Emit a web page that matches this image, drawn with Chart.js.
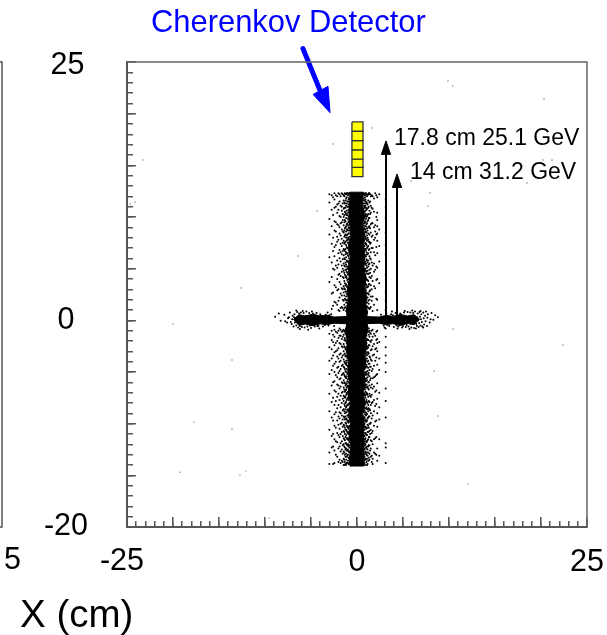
<!DOCTYPE html>
<html>
<head>
<meta charset="utf-8">
<script src="https://cdn.jsdelivr.net/npm/chart.js@4"></script>
<style>
  html, body { margin: 0; padding: 0; background: #fff; }
  #wrap { width: 607px; height: 635px; }
</style>
</head>
<body>
<div id="wrap"><canvas id="chart" width="607" height="635"></canvas></div>
<script>
// axis ranges and labelled ticks
const xRange = [-25, 25];
const yRange = [-20, 25];
const xTickLabels = [0, 25];
const yTickLabels = [0, -20];
// these two sit off their ticks in the picture, so they are placed by hand below
const cornerLabels = ["-25", "25"];

// stray hits
const strayX = [9.89, 10.43, 20.33, 20.22, 21.2, 18.48, 7.93, 7.72, 5.87, 1.63, -2.61, -23.26, -4.35, -6.41, -24.13, -24.67, -12.61, -20, -13.59, -17.72, -13.59, -19.24, -12.72, -12.07, -9.57, 10.43, 22.39, 8.37, 8.8, 12.07];
const strayY = [23.16, 22.68, 21.42, 15.52, 15.52, 13.29, 12.32, 11.06, 13.49, 18.62, 17.07, 15.52, 10.58, 6.22, 11.45, 11.26, 3.13, -0.36, -3.84, -9.85, -10.52, -14.69, -14.98, -14.59, -19.14, -0.84, -2.39, -4.91, -9.26, -15.85];

// solid black parts of the beam spot, as outlines
const coreOutlineX = [0.7, 0.6, 0.8, 0.62, 0.82, 0.66, 0.86, 0.72, 0.95, 0.85, 1.05, 0.95, 1.15, 1.0, 1.2, 0.95, 1.05, 0.85, 0.95, 0.72, 0.88, 0.66, 0.84, 0.62, 0.8, 0.68, 0.74, 0.7, -0.76, -0.82, -0.68, -0.86, -0.7, -0.9, -0.72, -0.96, -0.8, -1.0, -0.9, -1.15, -1.05, -1.25, -1.05, -1.15, -0.95, -1.05, -0.82, -0.94, -0.72, -0.9, -0.7, -0.85, -0.76];
const coreOutlineY = [12.4, 11.2, 10.2, 9.3, 8.2, 7.2, 6.2, 5.3, 4.2, 3.1, 2.2, 1.5, 0.8, 0, -0.7, -1.6, -2.4, -3.2, -4.1, -5, -6, -7, -8, -9, -10, -11, -12.6, -14.1, -14.1, -13.4, -12.2, -11.1, -10, -9.1, -8, -7, -6, -5, -4, -3, -2, -1, 0, 1, 2, 3, 4, 5.1, 6.1, 7.1, 8.2, 10.2, 12.4];
const bandOutlineX = [-6.9, -6.3, -5.6, -4.8, -4, -3.3, -2.5, -1.3, 1, 2.4, 3.2, 3.9, 4.7, 5.5, 6.2, 6.8, 6.2, 5.5, 4.7, 3.9, 3.2, 2.4, 1, -1.3, -2.5, -3.3, -4, -4.8, -5.6, -6.3];
const bandOutlineY = [0.1, 0.55, 0.42, 0.6, 0.42, 0.5, 0.32, 0.36, 0.36, 0.32, 0.48, 0.38, 0.56, 0.42, 0.55, 0.1, -0.42, -0.3, -0.5, -0.32, -0.42, -0.28, -0.32, -0.32, -0.28, -0.42, -0.34, -0.52, -0.36, -0.5];

// scattered hits along the vertical arm: one x, then the y values seen in that column
const haloColumnX = [-3.0, -2.75, -2.45, -2.15, -1.9, -1.65, -1.45, -1.32, -1.18, -1.05, -0.92, -0.82, 0.72, 0.82, 0.92, 1.03, 1.15, 1.28, 1.42, 1.7, 1.98, 2.2, 2.42, 3.12,
  -2.6, -2.3, -2.02, -1.78, -1.55, -1.38, -1.25, -1.12, -0.98, -0.87, 0.77, 0.87, 0.97, 1.09, 1.22, 1.35, 1.5, 1.6, 1.85, 2.1];
const haloColumnY = [
  [12.2, 11.4, 9.8, 8.3, 6.1, 3.7, -1.3, -2.6, -3.9, -5.2, -7.1, -8.8, -10.6, -12.8, -13.9],
  [12.1, 10.7, 9.1, 7.4, 5.6, 4.2, 2.6, 1.1, -1.0, -1.9, -2.8, -3.7, -4.8, -6.3, -7.9, -9.4, -11.2, -12.3],
  [12.3, 11.7, 10.9, 9.6, 8.7, 7.1, 6.2, 4.9, 3.4, 1.8, -0.9, -1.6, -2.4, -3.1, -4.2, -5.0, -5.9, -6.8, -8.2, -9.1, -10.2, -11.5, -12.6, -13.8],
  [12.0, 11.2, 10.4, 9.3, 8.1, 7.6, 5.8, 5.1, 4.0, 2.9, 1.5, -1.2, -2.0, -2.9, -3.5, -4.6, -5.5, -6.2, -7.4, -8.5, -9.7, -10.9, -11.8, -13.2],
  [12.2, 11.5, 10.1, 9.0, 8.4, 6.8, 6.0, 4.5, 3.7, 2.2, 0.9, -0.8, -1.5, -2.2, -3.3, -4.0, -4.9, -5.7, -6.6, -7.7, -8.9, -9.5, -10.5, -11.3, -12.2, -13.5],
  [12.3, 11.0, 10.6, 9.5, 8.8, 7.9, 7.2, 6.4, 5.3, 4.7, 3.1, 2.4, 1.3, -1.1, -1.8, -2.5, -3.6, -4.4, -5.3, -6.0, -7.0, -8.0, -9.2, -9.9, -10.8, -11.7, -12.5, -13.6],
  [12.1, 11.6, 10.8, 10.0, 9.2, 8.5, 7.7, 6.9, 6.3, 5.5, 4.8, 4.1, 3.3, 2.7, 1.9, 1.0, -0.9, -1.4, -2.3, -3.0, -3.8, -4.5, -5.1, -5.8, -6.5, -7.3, -7.8, -8.6, -9.3, -10.1, -10.7, -11.4, -12.0, -12.7, -13.4, -14.0],
  [12.3, 11.3, 10.5, 9.7, 8.9, 8.2, 7.5, 6.7, 5.9, 5.2, 4.4, 3.6, 3.0, 2.1, 1.2, -1.0, -1.7, -2.6, -3.2, -4.1, -4.7, -5.4, -6.1, -6.9, -7.5, -8.3, -9.0, -9.6, -10.4, -11.0, -11.6, -12.3, -13.0, -13.7],
  [12.2, 11.8, 11.1, 10.3, 9.9, 9.1, 8.6, 8.0, 7.3, 6.6, 6.1, 5.4, 4.9, 4.3, 3.5, 2.8, 2.3, 1.7, 0.9, -0.8, -1.3, -1.9, -2.7, -3.4, -3.9, -4.3, -5.0, -5.6, -6.2, -6.7, -7.2, -7.9, -8.4, -8.9, -9.5, -10.0, -10.6, -11.1, -11.9, -12.4, -12.9, -13.5, -14.0],
  [12.3, 11.5, 11.0, 10.2, 9.4, 8.8, 8.3, 7.8, 7.0, 6.5, 5.7, 5.0, 4.6, 3.9, 3.2, 2.5, 2.0, 1.4, -0.9, -1.6, -2.1, -3.0, -3.7, -4.4, -5.2, -5.9, -6.4, -7.1, -7.6, -8.2, -8.7, -9.2, -9.8, -10.3, -10.9, -11.5, -12.1, -12.6, -13.1, -13.8],
  [12.2, 11.7, 11.2, 10.7, 10.0, 9.6, 9.0, 8.4, 7.9, 7.4, 6.8, 6.2, 5.6, 5.1, 4.5, 4.0, 3.4, 2.9, 2.3, 1.6, -1.2, -1.8, -2.4, -3.1, -3.6, -4.2, -4.8, -5.5, -6.0, -6.6, -7.3, -7.7, -8.1, -8.8, -9.4, -9.9, -10.5, -11.0, -11.6, -12.2, -12.7, -13.3, -13.9],
  [12.3, 11.9, 11.4, 10.9, 10.4, 9.8, 9.3, 8.7, 8.1, 7.6, 7.1, 6.4, 5.8, 5.3, 4.7, 4.2, 3.7, -4.9, -5.4, -6.1, -6.8, -7.4, -8.0, -8.5, -9.1, -9.7, -10.2, -10.7, -11.3, -11.8, -12.3, -12.8, -13.4, -13.9],
  [12.3, 11.8, 11.3, 10.8, 10.3, 9.7, 9.2, 8.6, 8.2, 7.7, 7.0, 6.5, 5.9, 5.2, 4.6, 4.1, -4.6, -5.3, -5.9, -6.5, -7.0, -7.6, -8.3, -8.8, -9.3, -9.9, -10.4, -11.1, -11.7, -12.2, -12.9, -13.5, -14.0],
  [12.2, 11.6, 11.0, 10.5, 9.9, 9.4, 8.9, 8.3, 7.8, 7.2, 6.7, 6.1, 5.5, 4.9, 4.4, 3.8, 3.3, 2.6, -2.9, -3.5, -4.1, -4.7, -5.2, -5.8, -6.4, -7.1, -7.8, -8.2, -8.7, -9.4, -10.0, -10.6, -11.2, -11.9, -12.5, -13.2, -13.8],
  [12.3, 11.7, 11.1, 10.6, 10.1, 9.5, 8.8, 8.1, 7.5, 6.9, 6.3, 5.7, 5.0, 4.3, 3.6, 3.1, 2.4, 1.8, 1.1, -1.1, -1.7, -2.3, -3.0, -3.8, -4.4, -5.1, -5.7, -6.3, -6.9, -7.5, -8.1, -8.9, -9.6, -10.3, -10.9, -11.4, -12.0, -12.7, -13.4],
  [12.2, 11.4, 10.7, 10.0, 9.3, 8.5, 7.9, 7.3, 6.6, 5.9, 5.3, 4.7, 4.0, 3.4, 2.7, 2.1, 1.4, -0.9, -1.5, -2.2, -2.8, -3.4, -4.3, -5.0, -5.6, -6.2, -7.0, -7.7, -8.4, -9.0, -9.8, -10.5, -11.1, -11.8, -12.4, -13.0, -13.7],
  [12.1, 11.2, 10.2, 9.6, 8.7, 8.0, 7.1, 6.4, 5.6, 4.8, 3.9, 3.2, 2.2, 1.3, -1.0, -1.9, -2.7, -3.3, -4.0, -4.9, -5.5, -6.4, -7.2, -8.0, -8.6, -9.5, -10.1, -10.8, -11.6, -12.5, -13.1, -13.9],
  [12.3, 11.0, 9.9, 9.0, 7.6, 6.8, 5.4, 4.5, 3.5, 2.5, 1.6, -0.8, -1.4, -2.4, -3.2, -4.2, -5.1, -6.0, -6.7, -7.8, -8.5, -9.3, -10.4, -11.3, -12.1, -13.3],
  [12.2, 11.5, 10.3, 8.9, 7.4, 6.0, 4.6, 2.9, 1.2, -1.2, -2.0, -3.6, -4.5, -5.8, -7.3, -8.7, -10.0, -11.0, -12.6],
  [12.0, 10.8, 9.4, 8.2, 7.0, 5.3, 3.8, 2.3, 0.9, -0.9, -1.6, -2.5, -3.4, -4.7, -5.6, -6.6, -7.9, -9.2, -10.7, -12.0, -13.4, -13.9],
  [12.3, 9.2, 8.6, 8.0, 6.3, 4.9, 3.1, -1.5, -2.8, -3.9, -5.4, -6.9, -8.3, -9.8, -11.4, -12.9],
  [11.9, 10.4, 9.7, 9.1, 8.4, 7.7, 6.5, 5.1, 4.0, 2.0, 1.0, -1.0, -1.8, -2.2, -3.0, -4.3, -5.2, -6.1, -7.6, -9.0, -10.3, -12.4, -13.6],
  [12.2, 8.8, 7.2, 5.7, 3.6, -2.1, -3.7, -4.8, -7.0, -8.4, -9.6, -11.5, -13.1],
  [11.7, 10.9, 9.9, 8.5, 7.3, 6.4, 4.4, 2.8, 1.9, 1.0, -0.8, -1.6, -2.6, -3.4, -4.1, -5.0, -6.6, -7.8, -9.4, -11.9, -12.3, -13.8],
  [11.9, 10.2, 8.0, 6.7, 5.0, 2.7, 1.4, -1.4, -2.1, -3.4, -4.4, -6.0, -7.5, -9.7, -11.0, -12.2, -13.9],
  [12.1, 11.0, 9.5, 8.6, 7.3, 5.3, 3.2, 1.7, -1.1, -2.2, -3.0, -4.0, -5.3, -6.9, -7.8, -8.9, -10.4, -11.7, -13.0],
  [12.3, 11.3, 10.7, 9.2, 7.8, 6.5, 5.4, 4.4, 3.0, 1.9, 1.0, -1.0, -1.7, -2.7, -3.7, -4.5, -5.1, -6.3, -7.1, -8.2, -9.3, -10.1, -11.1, -12.4, -13.7],
  [12.0, 11.1, 10.0, 9.4, 8.2, 7.4, 6.6, 5.7, 4.3, 3.5, 2.6, 1.2, -0.9, -1.5, -2.3, -3.2, -3.9, -4.7, -5.6, -6.4, -7.3, -8.4, -9.0, -10.0, -11.0, -11.9, -12.7, -13.8],
  [12.2, 11.3, 10.3, 9.7, 8.6, 7.5, 6.7, 5.9, 5.0, 4.2, 3.0, 2.0, 1.2, -1.0, -1.6, -2.6, -3.4, -4.3, -5.2, -6.1, -6.9, -7.6, -8.7, -9.6, -10.3, -11.2, -12.1, -12.9, -13.7],
  [12.0, 11.4, 10.9, 10.2, 9.5, 8.7, 8.1, 7.4, 6.8, 6.0, 5.3, 4.6, 3.8, 3.1, 2.4, 1.5, -1.1, -1.9, -2.5, -3.3, -4.0, -4.6, -5.3, -6.0, -6.7, -7.4, -8.1, -8.8, -9.4, -10.2, -10.8, -11.5, -12.2, -12.8, -13.5, -14.0],
  [12.2, 11.6, 10.9, 10.4, 9.6, 9.0, 8.3, 7.6, 6.9, 6.4, 5.6, 4.9, 4.2, 3.4, 2.8, 2.0, 1.3, -1.3, -2.0, -2.8, -3.5, -4.2, -4.9, -5.5, -6.3, -6.8, -7.4, -8.0, -8.6, -9.3, -9.9, -10.6, -11.3, -11.9, -12.5, -13.2, -13.9],
  [12.3, 11.9, 11.3, 10.6, 10.2, 9.3, 8.8, 8.2, 7.7, 7.1, 6.5, 5.8, 5.2, 4.7, 4.1, 3.3, 2.6, 1.9, 1.1, -1.0, -1.5, -2.2, -2.9, -3.5, -4.1, -4.7, -5.4, -6.1, -6.5, -7.0, -7.7, -8.3, -8.9, -9.6, -10.2, -10.7, -11.4, -12.0, -12.6, -13.2, -13.8],
  [12.1, 11.5, 11.0, 10.4, 9.8, 9.2, 8.7, 8.0, 7.5, 7.0, 6.3, 5.7, 5.2, 4.4, 3.7, 3.1, 2.5, -2.0, -2.7, -3.3, -3.9, -4.5, -5.1, -5.7, -6.3, -6.9, -7.5, -8.2, -8.6, -9.2, -9.7, -10.4, -10.8, -11.4, -12.0, -12.5, -13.0, -13.6],
  [12.3, 11.8, 11.2, 10.6, 10.1, 9.5, 8.9, 8.4, 7.8, 7.3, 6.6, 6.0, 5.5, 4.9, -5.2, -5.7, -6.4, -6.9, -7.5, -8.1, -8.7, -9.2, -9.8, -10.3, -10.9, -11.5, -12.1, -12.7, -13.3, -13.8],
  [12.2, 11.6, 11.1, 10.5, 10.0, 9.4, 8.8, 8.3, 7.7, 7.2, 6.7, 6.2, 5.6, 5.0, -5.4, -6.0, -6.6, -7.2, -7.7, -8.4, -8.9, -9.5, -10.0, -10.6, -11.2, -11.7, -12.4, -13.0, -13.6],
  [12.1, 11.9, 11.3, 10.9, 10.2, 9.6, 9.1, 8.5, 8.0, 7.4, 6.9, 6.3, 5.4, 4.8, 4.2, 3.7, -3.2, -3.9, -4.5, -5.0, -5.6, -6.2, -6.7, -7.3, -7.9, -8.5, -9.1, -9.7, -10.3, -10.9, -11.5, -12.1, -12.8, -13.4, -14.0],
  [12.3, 11.5, 10.9, 10.3, 9.8, 9.1, 8.6, 7.9, 7.4, 6.8, 6.2, 5.5, 4.8, 4.1, 3.5, 2.9, 2.2, -1.4, -2.0, -2.6, -3.2, -3.9, -4.6, -5.3, -5.9, -6.5, -7.2, -7.9, -8.5, -9.2, -9.8, -10.4, -11.0, -11.7, -12.3, -12.9, -13.5],
  [12.0, 11.3, 10.8, 10.1, 9.4, 8.9, 8.2, 7.7, 7.0, 6.4, 5.8, 5.1, 4.5, 3.9, 3.2, 2.6, 1.7, -1.2, -1.8, -2.5, -3.1, -3.7, -4.5, -5.2, -5.8, -6.5, -7.1, -7.9, -8.6, -9.1, -9.7, -10.4, -11.1, -11.7, -12.2, -12.8, -13.4, -14.0],
  [12.2, 11.6, 10.9, 10.3, 9.7, 9.0, 8.4, 7.8, 7.2, 6.5, 5.8, 5.2, 4.5, 3.8, 3.3, 2.6, 1.9, 1.2, -1.1, -1.9, -2.6, -3.1, -3.9, -4.6, -5.3, -6.0, -6.6, -7.4, -8.2, -8.8, -9.4, -10.2, -10.8, -11.5, -12.2, -12.8, -13.6],
  [12.3, 11.4, 10.6, 9.9, 9.1, 8.3, 7.6, 6.9, 6.2, 5.5, 4.9, 4.2, 3.5, 2.8, 2.0, 1.1, -1.0, -1.6, -2.4, -3.5, -4.2, -4.8, -5.4, -6.3, -7.1, -7.9, -8.6, -9.3, -10.0, -10.7, -11.3, -12.1, -12.9, -13.5],
  [12.0, 11.1, 10.4, 9.3, 8.5, 7.5, 6.6, 5.9, 5.0, 4.1, 3.4, 2.3, 1.3, -1.3, -2.1, -2.9, -3.8, -4.5, -5.6, -6.5, -7.4, -8.2, -9.0, -9.9, -10.6, -11.6, -12.4, -13.2],
  [12.1, 10.9, 9.4, 8.1, 7.0, 5.6, 4.3, 3.0, 1.9, -1.0, -1.9, -2.8, -3.9, -4.9, -6.2, -7.2, -8.0, -9.5, -10.9, -11.7, -13.1, -13.7],
  [11.8, 10.5, 9.0, 7.8, 6.6, 5.5, 4.7, 3.3, 1.5, -1.3, -2.3, -3.3, -4.4, -5.5, -6.4, -7.7, -8.8, -10.2, -11.5, -12.8],
  [12.1, 10.0, 8.3, 7.1, 5.2, 3.9, 2.1, -1.1, -1.9, -2.7, -3.6, -5.3, -6.8, -8.1, -9.7, -11.3, -13.0]
];

// fuzz along the horizontal arm
const fuzzX = [-8.9, -8.5, -8.3, -7.9, -7.6, -7.4, -7.3, -7.1, -7.0, -6.9, -6.8, -6.7, -6.6, -6.5, -6.4, -6.3, -6.2, -6.1, -6.0, -5.8, -5.7, -5.5, -5.4, -5.2, -5.0, -4.8, -4.6, -4.4, -4.2, -4.0, -3.7, -3.4, -3.1, -2.8, -2.5, 2.6, 2.9, 3.2, 3.5, 3.7, 4.0, 4.2, 4.5, 4.7, 4.9, 5.1, 5.3, 5.5, 5.6, 5.8, 5.9, 6.1, 6.2, 6.3, 6.5, 6.6, 6.7, 6.8, 6.9, 7.0, 7.1, 7.2, 7.3, 7.4, 7.6, 7.7, 7.9, 8.1, 8.3, 8.5, 8.8, -6.6, -6.2, -5.9, -5.3, -4.9, -4.1, -3.2, 3.0, 3.8, 4.4, 5.2, 5.7, 6.0, 6.4, 6.9, 7.2, 7.5,
  -7.8, -7.5, -7.2, -7.05, -6.85, -6.75, -6.55, -6.45, -6.35, -6.25, -6.15, -6.05, -5.95, -5.85, -5.75, -5.65, -5.55, -5.45, -5.1, -4.7, -4.3, -3.9, -3.5, -3.0, 3.3, 3.9, 4.3, 4.8, 5.0, 5.4, 5.65, 5.85, 6.05, 6.15, 6.25, 6.35, 6.45, 6.55, 6.65, 6.75, 6.85, 6.95, 7.05, 7.25, 7.45, 7.65, 8.0];
const fuzzY = [0.35, 0.65, -0.05, 0.55, -0.2, 0.3, 0.75, -0.35, 0.45, -0.6, 0.6, 0.15, -0.5, 0.8, -0.7, 0.65, -0.55, 0.75, -0.65, 0.7, -0.7, 0.85, -0.6, 0.7, -0.75, 0.65, -0.6, 0.7, -0.55, 0.6, -0.6, 0.55, -0.5, 0.6, -0.55, 0.55, -0.5, 0.65, -0.55, 0.6, -0.65, 0.7, -0.6, 0.65, -0.7, 0.75, -0.65, 0.8, -0.6, 0.75, -0.7, 0.7, -0.75, 0.85, -0.55, 0.65, -0.65, 0.8, -0.5, 0.6, -0.6, 0.75, -0.4, 0.45, -0.55, 0.6, -0.2, 0.7, 0.05, 0.5, 0.3, 0.95, -0.85, 0.9, -0.9, 0.85, -0.8, 0.75, -0.7, 0.85, -0.8, 0.9, -0.85, 0.95, -0.8, 0.9, -0.7, 0.85,
  -0.1, 0.2, -0.15, 0.1, 0.3, -0.2, 0.05, 0.35, -0.3, 0.2, -0.05, 0.4, 0.1, -0.35, 0.3, -0.1, 0.45, 0.25, -0.5, 0.55, -0.55, 0.45, -0.45, 0.5, -0.45, 0.5, -0.5, 0.55, -0.55, -0.45, 0.35, -0.3, 0.25, -0.1, 0.4, 0.15, -0.35, 0.3, 0.0, -0.25, 0.35, 0.1, -0.15, 0.2, -0.1, 0.25, 0.1];

// Cherenkov detector cells (cell edges along y) and its x extent
const detectorX = [-0.55, 0.65];
const detectorEdgesY = [19.2, 18.3, 17.4, 16.5, 15.6, 14.8, 13.9];

// arrows from the beam line up to the marked heights
const arrowX = [3.15, 4.35];
const arrowTipY = [17.36, 14.16];
const arrowBaseY = 0.1;
const arrowHeadH = 1.3;
const arrowHeadW = 0.5;

// blue pointer to the detector
const pointerShaftX = [-5.87, -4.0];
const pointerShaftY = [26.3, 22.2];
const pointerHeadX = [-2.93, -4.77, -3.15];
const pointerHeadY = [20.1, 21.86, 22.65];

const toPoints = (xs, ys) => xs.map((x, i) => ({ x: x, y: ys[i] }));

function polygon(points, fillColor, lineColor, lineWidth) {
  return {
    data: points,
    showLine: true,
    fill: "shape",
    backgroundColor: fillColor,
    borderColor: lineColor,
    borderWidth: lineWidth,
    pointRadius: 0,
    tension: 0
  };
}

const haloPoints = [];
haloColumnX.forEach((x, i) => {
  haloColumnY[i].forEach((y) => haloPoints.push({ x: x, y: y }));
});

const datasets = [
  { data: toPoints(strayX, strayY), pointRadius: 0.7, pointBackgroundColor: "#777", pointBorderWidth: 0 },
  { data: haloPoints, pointRadius: 1, pointBackgroundColor: "#000", pointBorderWidth: 0 },
  { data: toPoints(fuzzX, fuzzY), pointRadius: 1, pointBackgroundColor: "#000", pointBorderWidth: 0 },
  polygon(toPoints(coreOutlineX, coreOutlineY).concat([{ x: coreOutlineX[0], y: coreOutlineY[0] }]), "#000", "#000", 1),
  polygon(toPoints(bandOutlineX, bandOutlineY).concat([{ x: bandOutlineX[0], y: bandOutlineY[0] }]), "#000", "#000", 1)
];

// detector cells
for (let i = 0; i < detectorEdgesY.length - 1; i++) {
  const top = detectorEdgesY[i];
  const bottom = detectorEdgesY[i + 1];
  datasets.push(polygon([
    { x: detectorX[0], y: top },
    { x: detectorX[1], y: top },
    { x: detectorX[1], y: bottom },
    { x: detectorX[0], y: bottom },
    { x: detectorX[0], y: top }
  ], "#ffff00", "#333", 1.3));
}

// black arrows
arrowX.forEach((x, i) => {
  const tip = arrowTipY[i];
  datasets.push({
    data: [{ x: x, y: arrowBaseY }, { x: x, y: tip - arrowHeadH }],
    showLine: true, borderColor: "#000", borderWidth: 2, pointRadius: 0
  });
  datasets.push(polygon([
    { x: x, y: tip },
    { x: x + arrowHeadW, y: tip - arrowHeadH },
    { x: x - arrowHeadW, y: tip - arrowHeadH },
    { x: x, y: tip }
  ], "#000", "#000", 1));
});

// blue pointer
datasets.push({
  data: toPoints(pointerShaftX, pointerShaftY),
  showLine: true, borderColor: "#0000ff", borderWidth: 5, pointRadius: 0, clip: false, borderCapStyle: "round"
});
datasets.push(polygon(
  toPoints(pointerHeadX, pointerHeadY).concat([{ x: pointerHeadX[0], y: pointerHeadY[0] }]),
  "#0000ff", "#0000ff", 1
));

// frame, the edge of the neighbouring panel and the free text
const extras = {
  id: "extras",
  afterDraw(chart) {
    const ctx = chart.ctx;
    const a = chart.chartArea;
    ctx.save();
    ctx.strokeStyle = "#666";
    ctx.lineWidth = 1.5;
    ctx.beginPath();
    ctx.moveTo(a.left, a.top);
    ctx.lineTo(a.right, a.top);
    ctx.lineTo(a.right, a.bottom);
    ctx.stroke();

    ctx.strokeStyle = "#555";
    ctx.beginPath();
    ctx.moveTo(0, a.top);
    ctx.lineTo(2, a.top);
    ctx.lineTo(2, a.bottom);
    ctx.lineTo(0, a.bottom);
    ctx.stroke();

    ctx.textBaseline = "middle";
    ctx.textAlign = "left";
    ctx.fillStyle = "#000";
    ctx.font = "30.5px 'Liberation Sans', Arial, sans-serif";
    ctx.fillText("5", 4, 561);
    ctx.textAlign = "center";
    ctx.fillText(cornerLabels[0], 122, 562);
    ctx.fillText(cornerLabels[1], 67.5, 66);
    ctx.textAlign = "left";
    ctx.font = "38.5px 'Liberation Sans', Arial, sans-serif";
    ctx.fillText("X (cm)", 20, 616);
    ctx.font = "23px 'Liberation Sans', Arial, sans-serif";
    ctx.fillText("17.8 cm 25.1 GeV", 394, 139);
    ctx.fillText("14 cm 31.2 GeV", 410, 173);
    ctx.fillStyle = "#0000ff";
    ctx.font = "30.9px 'Liberation Sans', Arial, sans-serif";
    ctx.fillText("Cherenkov Detector", 151, 23);
    ctx.restore();
  }
};

const axisColor = "#555";
// fixed axis sizes, and no room kept for labels hanging past the plot edges
const fitWidth = (w) => (scale) => { scale.width = w; scale.paddingTop = 0; scale.paddingBottom = 0; };
const fitHeight = (h) => (scale) => { scale.height = h; scale.paddingLeft = 0; scale.paddingRight = 0; };

new Chart(document.getElementById("chart"), {
  type: "scatter",
  data: { datasets: datasets },
  plugins: [extras],
  options: {
    responsive: false,
    animation: false,
    events: [],
    layout: { autoPadding: false, padding: { top: 62, right: 20, left: 0, bottom: 0 } },
    plugins: { legend: { display: false }, tooltip: { enabled: false } },
    scales: {
      x: {
        type: "linear", position: "bottom", weight: 1,
        min: xRange[0], max: xRange[1],
        afterFit: fitHeight(108),
        border: { color: axisColor, width: 2 },
        grid: { drawOnChartArea: false, color: axisColor, tickLength: -10, lineWidth: 1.5 },
        ticks: {
          stepSize: 5, autoSkip: false, maxRotation: 0, padding: 27, color: "#000",
          font: { size: 30.5, family: "'Liberation Sans', Arial, sans-serif" },
          callback: (v) => (xTickLabels.includes(v) ? String(v) : "")
        }
      },
      xMinor: {
        type: "linear", position: "bottom", weight: 0,
        min: xRange[0], max: xRange[1],
        afterFit: fitHeight(0),
        border: { display: false },
        grid: { drawOnChartArea: false, color: axisColor, tickLength: -6, lineWidth: 1.5 },
        ticks: { stepSize: 1, autoSkip: false, display: false }
      },
      y: {
        type: "linear", position: "left", weight: 1,
        min: yRange[0], max: yRange[1],
        afterFit: fitWidth(127),
        border: { color: axisColor, width: 2 },
        grid: { drawOnChartArea: false, color: axisColor, tickLength: -9, lineWidth: 1.5 },
        ticks: {
          stepSize: 5, autoSkip: false, crossAlign: "center", padding: 48, color: "#000",
          font: { size: 30.5, family: "'Liberation Sans', Arial, sans-serif" },
          callback: (v) => (yTickLabels.includes(v) ? String(v) : "")
        }
      },
      yMinor: {
        type: "linear", position: "left", weight: 0,
        min: yRange[0], max: yRange[1],
        afterFit: fitWidth(0),
        border: { display: false },
        grid: { drawOnChartArea: false, color: axisColor, tickLength: -6, lineWidth: 1.5 },
        ticks: { stepSize: 1, autoSkip: false, display: false }
      }
    }
  }
});
</script>
</body>
</html>
